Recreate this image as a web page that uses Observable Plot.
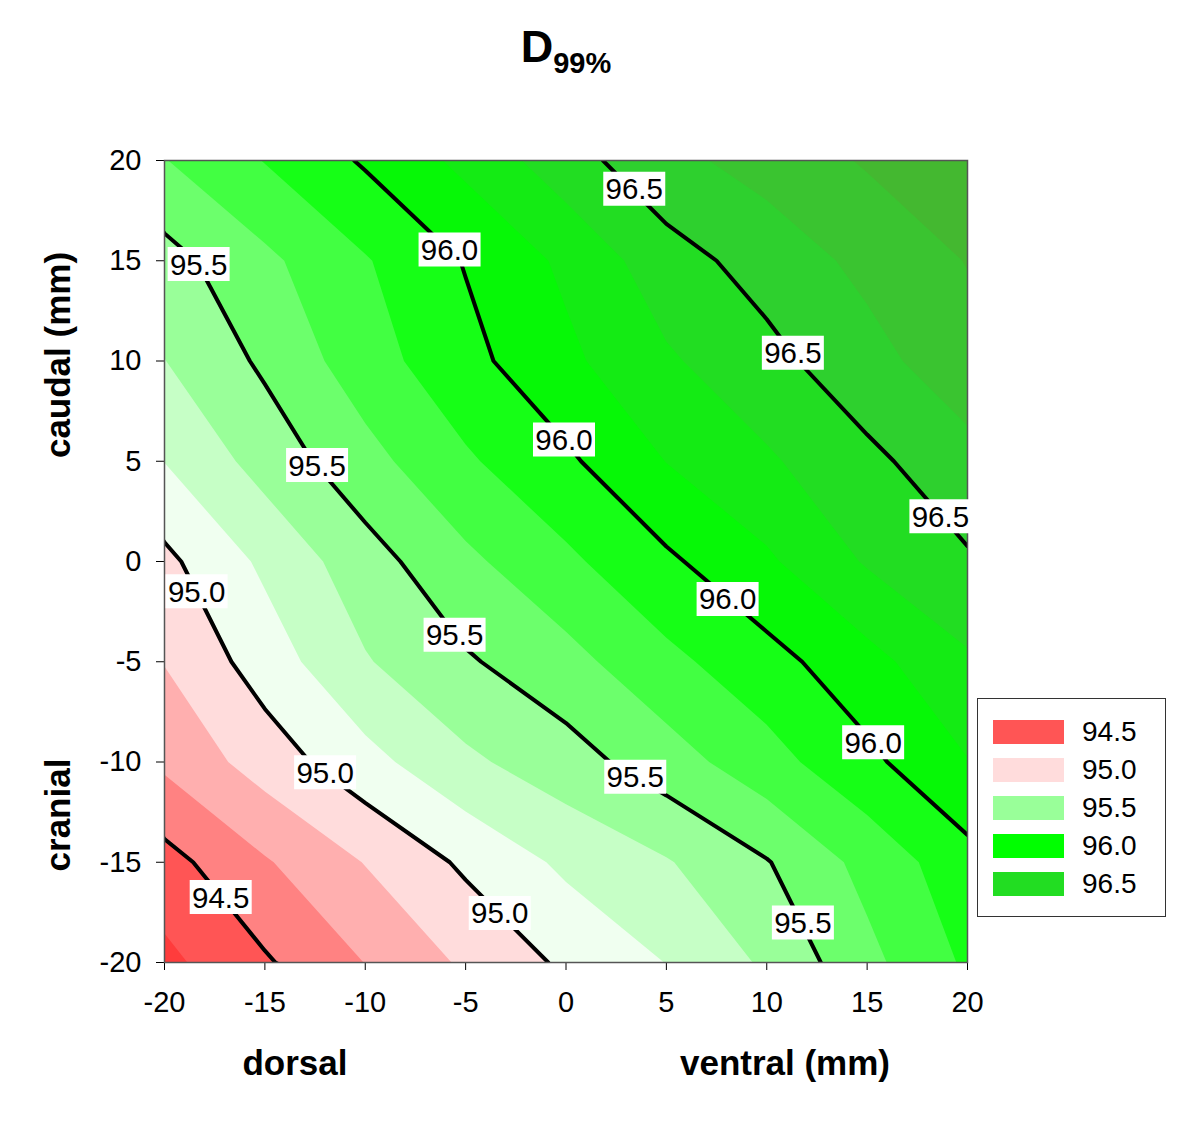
<!DOCTYPE html>
<html>
<head>
<meta charset="utf-8">
<script src="https://cdn.jsdelivr.net/npm/d3@7"></script>
<script src="https://cdn.jsdelivr.net/npm/@observablehq/plot@0.6"></script>
<style>
  body { margin: 0; background: #fff; font-family: "Liberation Sans", Arial, Helvetica, sans-serif; color: #000; }
  #wrap { position: relative; width: 1200px; height: 1123px; overflow: hidden; }
  #title { position: absolute; left: 165px; width: 802px; top: 24px; text-align: center; font-weight: bold; font-size: 45px; line-height: 45px; white-space: nowrap; }
  #title span { font-size: 29px; position: relative; top: 11px; }
  #chart { position: absolute; left: 0; top: 100px; }
  .lab { position: absolute; font-weight: bold; font-size: 35px; line-height: 1; white-space: nowrap; transform: translate(-50%, -50%); }
  .lab.rot { transform: translate(-50%, -50%) rotate(-90deg); }
  #legend { position: absolute; left: 977px; top: 698px; width: 187px; height: 217px; border: 1.5px solid #333; }
  .lrow { position: absolute; left: 15px; height: 24px; width: 170px; }
  .lsw { position: absolute; left: 0; top: 0; width: 71px; height: 24px; }
  .ltx { position: absolute; left: 89px; top: 50%; transform: translateY(-50%); font-size: 28px; line-height: 1; }
</style>
</head>
<body>
<div id="wrap">
  <div id="title">D<span>99%</span></div>
  <div id="chart"></div>
  <div class="lab rot" style="left:57px; top:355px;">caudal (mm)</div>
  <div class="lab rot" style="left:57px; top:815px;">cranial</div>
  <div class="lab" style="left:295px; top:1062px;">dorsal</div>
  <div class="lab" style="left:785px; top:1062px;">ventral (mm)</div>
  <div id="legend"></div>
</div>
<script>
// grid positions (mm)
const xValues = [-20, -15, -10, -5, 0, 5, 10, 15, 20];
const yValues = [20, 15, 10, 5, 0, -5, -10, -15, -20];

// D99% values, one array per row (top row y = 20 to bottom row y = -20), columns x = -20 .. 20
const rowY20  = [95.66, 95.84, 96.02, 96.21, 96.43, 96.62, 96.73, 96.85, 96.97];
const rowY15  = [95.44, 95.63, 95.82, 96.01, 96.20, 96.43, 96.57, 96.71, 96.84];
const rowY10  = [95.33, 95.53, 95.76, 95.95, 96.13, 96.31, 96.45, 96.61, 96.77];
const rowY5   = [95.17, 95.40, 95.61, 95.81, 95.97, 96.17, 96.31, 96.46, 96.61];
const rowY0   = [94.96, 95.20, 95.43, 95.63, 95.80, 95.97, 96.14, 96.35, 96.48];
const rowYm5  = [94.84, 95.08, 95.32, 95.48, 95.61, 95.79, 95.94, 96.11, 96.31];
const rowYm10 = [94.70, 94.91, 95.11, 95.30, 95.43, 95.59, 95.77, 95.96, 96.16];
const rowYm15 = [94.44, 94.65, 94.84, 95.03, 95.20, 95.32, 95.49, 95.72, 95.94];
const rowYm20 = [94.29, 94.48, 94.67, 94.86, 95.03, 95.17, 95.36, 95.62, 95.86];

// axis ticks
const xTicks = [-20, -15, -10, -5, 0, 5, 10, 15, 20];
const yTicks = [-20, -15, -10, -5, 0, 5, 10, 15, 20];

// filled band lower bounds and their colours
const fillLevels = [94.1667, 94.3333, 94.5, 94.6667, 94.8333, 95.0, 95.1667, 95.3333, 95.5,
                    95.6667, 95.8333, 96.0, 96.1667, 96.3333, 96.5, 96.6667, 96.8333];
const fillColors = ["#ff3c3c", "#ff5555", "#ff8282", "#ffafaf", "#ffdcdc", "#f0fff0", "#c6ffc6", "#99ff99", "#6cff6c",
                    "#42ff42", "#16ff16", "#06f806", "#14eb14", "#22dd22", "#2ed02e", "#3ac430", "#44b830"];

// labelled contour lines
const lineLevels = [94.5, 95.0, 95.5, 96.0, 96.5];

// legend
const legendLevels = [94.5, 95.0, 95.5, 96.0, 96.5];
const legendColors = ["#ff5555", "#ffdcdc", "#99ff99", "#00ff00", "#22dd22"];

// contour labels: level and the x (mm) where the label sits on its line
const labelLevels = [96.5, 96.0, 95.5, 96.5, 96.0, 95.5, 96.5, 95.0, 96.0, 95.5, 96.0, 95.0, 95.5, 94.5, 95.0, 95.5];
const labelXs     = [3.4, -5.8, -18.3, 11.3, -0.1, -12.4, 18.65, -18.4, 8.05, -5.55, 15.3, -12.0, 3.45, -17.2, -3.3, 11.8];

const rows = [rowY20, rowY15, rowY10, rowY5, rowY0, rowYm5, rowYm10, rowYm15, rowYm20];
const grid = rows.flat();
const nx = xValues.length, ny = yValues.length;
const dx = xValues[1] - xValues[0];
const dy = yValues[0] - yValues[1];

function valueAt(x, y) {
  const fx = (x - xValues[0]) / dx, fy = (yValues[0] - y) / dy;
  const i = Math.max(0, Math.min(nx - 2, Math.floor(fx)));
  const j = Math.max(0, Math.min(ny - 2, Math.floor(fy)));
  const tx = fx - i, ty = fy - j;
  const v = (r, c) => grid[r * nx + c];
  return (1 - ty) * ((1 - tx) * v(j, i) + tx * v(j, i + 1)) + ty * ((1 - tx) * v(j + 1, i) + tx * v(j + 1, i + 1));
}
function crossingY(level, x) {
  const y0 = yValues[ny - 1], y1 = yValues[0];
  let prev = valueAt(x, y0) - level;
  for (let y = y0 + 0.01; y <= y1 + 1e-9; y += 0.01) {
    const cur = valueAt(x, y) - level;
    if (prev === 0) return y - 0.01;
    if (prev * cur <= 0) return y - 0.01 + 0.01 * (prev / (prev - cur));
    prev = cur;
  }
  return NaN;
}
const labels = labelLevels.map((level, k) => ({x: labelXs[k], y: crossingY(level, labelXs[k]), text: level.toFixed(1)}));

const gridBounds = {
  width: nx, height: ny,
  x1: xValues[0] - dx / 2, x2: xValues[nx - 1] + dx / 2,
  y1: yValues[0] + dy / 2, y2: yValues[ny - 1] - dy / 2
};

// white rectangular box drawn behind each contour label
const labelBox = {draw(context) { context.rect(-31, -18, 62, 34); }};

const fontFamily = '"Liberation Sans", Arial, Helvetica, sans-serif';
const plot = Plot.plot({
  width: 1200,
  height: 1000,
  marginTop: 60,
  marginLeft: 164,
  marginRight: 233,
  marginBottom: 138,
  style: {fontFamily, fontSize: "29px", color: "#000", background: "transparent"},
  x: {domain: [-20, 20], ticks: xTicks, tickFormat: d => String(d), tickSize: 8, tickPadding: 21, label: null},
  y: {domain: [-20, 20], ticks: yTicks, tickFormat: d => String(d), tickSize: 8, tickPadding: 15, label: null},
  color: {type: "threshold", domain: fillLevels.slice(1), range: fillColors},
  marks: [
    Plot.contour(grid, {...gridBounds, fill: Plot.identity, thresholds: fillLevels, stroke: "none", clip: true}),
    Plot.contour(grid, {...gridBounds, value: Plot.identity, thresholds: lineLevels, fill: "none", stroke: "#000", strokeWidth: 4, strokeLinejoin: "round", clip: true}),
    Plot.frame({stroke: "#555", strokeWidth: 1.5}),
    Plot.dot(labels, {x: "x", y: "y", symbol: labelBox, fill: "#fff", stroke: "none", r: 10}),
    Plot.text(labels, {x: "x", y: "y", text: "text", fontSize: 29.5, fill: "#000", textAnchor: "middle", lineAnchor: "middle"})
  ]
});
document.getElementById("chart").appendChild(plot);

// legend
const legend = document.getElementById("legend");
legendLevels.forEach((lv, k) => {
  const row = document.createElement("div");
  row.className = "lrow";
  row.style.top = (21 + k * 38) + "px";
  const sw = document.createElement("div");
  sw.className = "lsw";
  sw.style.background = legendColors[k];
  const tx = document.createElement("div");
  tx.className = "ltx";
  tx.textContent = lv.toFixed(1);
  row.appendChild(sw);
  row.appendChild(tx);
  legend.appendChild(row);
});
</script>
</body>
</html>
